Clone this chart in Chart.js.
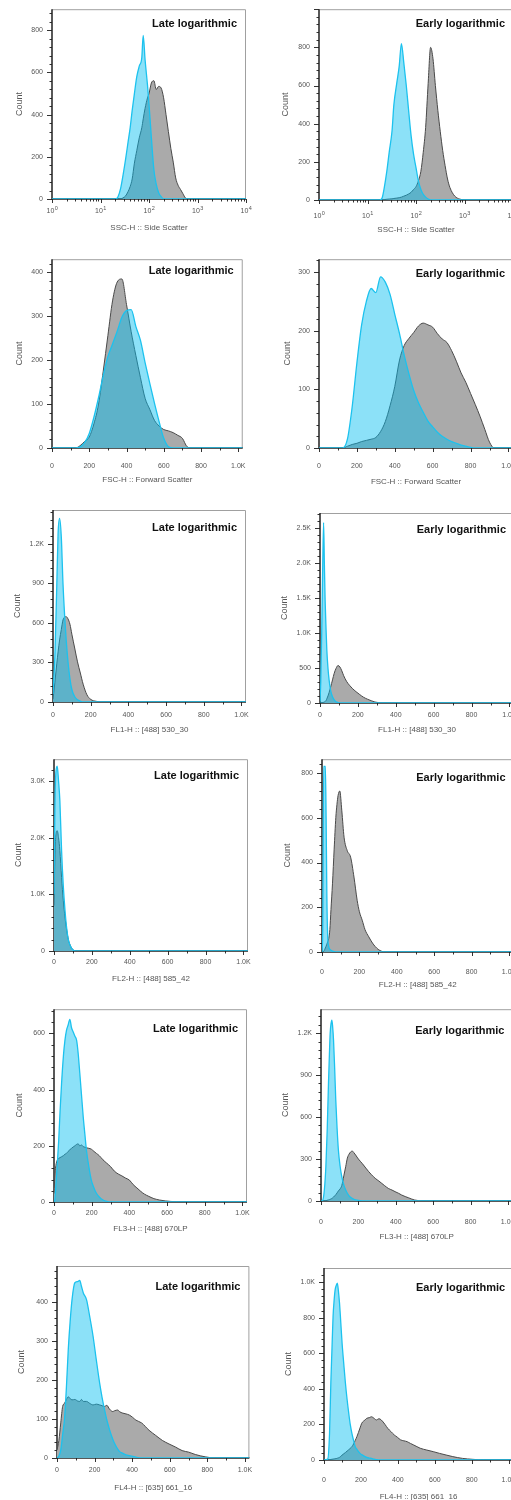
<!DOCTYPE html>
<html><head><meta charset="utf-8">
<script src="https://cdn.jsdelivr.net/npm/chart.js@4.4.1/dist/chart.umd.min.js"></script>
<style>
html,body{margin:0;padding:0;background:#fff;overflow:hidden;width:511px;height:1500px;position:relative}
canvas{position:absolute;display:block}
</style></head><body>
<script>
// ---------- DATA ----------
// Row 1: SSC (log x)
const sscLateX  = [1, 20, 23, 26, 29, 33, 37, 41, 45, 50, 56, 63, 71, 76, 83, 93, 100, 112, 126, 141, 158, 178, 200, 224, 251, 282, 316, 355, 398, 447, 501, 562, 631, 10000];
const sscLateBlue = [0, 0, 11, 50, 110, 190, 270, 340, 420, 500, 580, 630, 670, 776, 660, 541, 450, 290, 140, 70, 30, 11, 0, 0, 0, 0, 0, 0, 0, 0, 0, 0, 0, 0];
const sscLateGray = [0, 0, 0, 0, 5, 15, 35, 60, 95, 170, 230, 290, 338, 380, 430, 479, 500, 550, 561, 519, 534, 526, 480, 401, 320, 240, 175, 100, 65, 45, 25, 5, 0, 0];

const sscEarlyX = [1, 18, 20, 22, 25, 28, 32, 35, 40, 45, 50, 56, 63, 71, 79, 89, 100, 112, 126, 141, 158, 178, 200, 224, 251, 282, 316, 355, 398, 447, 501, 631, 794, 1000, 10000];
const sscEarlyBlue = [0, 0, 10, 60, 150, 250, 360, 500, 610, 700, 820, 720, 600, 460, 340, 240, 170, 100, 55, 30, 15, 5, 0, 0, 0, 0, 0, 0, 0, 0, 0, 0, 0, 0, 0];
const sscEarlyGray = [0, 0, 0, 2, 4, 5, 6, 8, 10, 12, 15, 20, 25, 32, 40, 55, 70, 100, 150, 250, 380, 610, 800, 740, 600, 470, 360, 260, 180, 110, 65, 20, 5, 0, 0];

// Row 2: FSC
const fscLateX = [0, 125, 150, 175, 200, 225, 250, 275, 300, 325, 350, 375, 400, 425, 450, 475, 500, 525, 550, 575, 600, 625, 650, 675, 700, 725, 750, 1024];
const fscLateBlue = [0, 0, 2, 12, 33, 70, 115, 165, 208, 237, 266, 298, 313, 315, 277, 245, 194, 147, 102, 60, 22, 3, 0, 0, 0, 0, 0, 0];
const fscLateGray = [0, 0, 5, 15, 25, 55, 100, 175, 256, 335, 378, 385, 327, 265, 211, 160, 113, 88, 63, 50, 42, 39, 35, 29, 22, 3, 0, 0];

const fscEarlyX = [0, 125, 150, 175, 200, 225, 250, 275, 300, 325, 350, 375, 400, 425, 450, 475, 500, 525, 550, 575, 600, 625, 650, 675, 700, 725, 750, 775, 800, 825, 850, 875, 900, 925, 1024];
const fscEarlyBlue = [0, 0, 15, 70, 145, 210, 250, 272, 265, 292, 283, 262, 228, 195, 158, 126, 98, 77, 61, 46, 36, 27, 20, 15, 11, 8, 5, 3, 1, 0, 0, 0, 0, 0, 0];
const fscEarlyGray = [0, 0, 3, 6, 8, 11, 13, 15, 18, 28, 45, 72, 105, 150, 175, 187, 197, 208, 213, 210, 206, 195, 186, 180, 166, 148, 128, 112, 93, 74, 54, 32, 10, 0, 0];

// Row 3: FL1
const fl1LateX = [0, 10, 20, 27, 35, 44, 53, 62, 70, 80, 90, 100, 115, 130, 145, 160, 180, 200, 230, 260, 1024];
const fl1LateBlue = [60, 350, 880, 1280, 1395, 1255, 900, 650, 470, 300, 175, 95, 40, 17, 6, 0, 0, 0, 0, 0, 0];
const fl1LateGray = [20, 150, 290, 380, 471, 550, 623, 645, 648, 630, 590, 515, 410, 305, 220, 135, 55, 20, 5, 0, 0];

const fl1EarlyX = [0, 4, 9, 14, 19, 23, 27, 32, 36, 42, 48, 56, 66, 75, 84, 95, 105, 115, 125, 140, 155, 170, 190, 210, 230, 250, 270, 290, 310, 330, 350, 370, 1024];
const fl1EarlyBlue = [30, 300, 1000, 1900, 2576, 2000, 1470, 1050, 757, 500, 330, 180, 90, 45, 19, 6, 0, 0, 0, 0, 0, 0, 0, 0, 0, 0, 0, 0, 0, 0, 0, 0, 0];
const fl1EarlyGray = [0, 0, 2, 5, 10, 15, 22, 35, 60, 100, 150, 225, 330, 424, 490, 535, 515, 460, 390, 310, 255, 210, 162, 120, 82, 55, 33, 14, 5, 1, 0, 0, 0];

// Row 4: FL2
const fl2LateX = [0, 5, 10, 17, 24, 31, 40, 49, 58, 67, 76, 85, 93, 102, 111, 120, 1024];
const fl2LateBlue = [1000, 2600, 3150, 3263, 3000, 2650, 1772, 1150, 720, 400, 193, 100, 47, 15, 0, 0, 0];
const fl2LateGray = [800, 1700, 2050, 2123, 2000, 1772, 1300, 895, 600, 368, 200, 105, 50, 18, 5, 0, 0];

const fl2EarlyX = [0, 4, 9, 14, 18, 22, 26, 30, 36, 42, 48, 56, 65, 74, 80, 86, 95, 106, 118, 135, 153, 171, 188, 200, 215, 230, 250, 270, 285, 300, 320, 340, 1024];
const fl2EarlyBlue = [0, 100, 830, 830, 830, 600, 250, 80, 24, 12, 8, 4, 2, 0, 0, 0, 0, 0, 0, 0, 0, 0, 0, 0, 0, 0, 0, 0, 0, 0, 0, 0, 0];
const fl2EarlyGray = [0, 0, 3, 10, 18, 26, 35, 45, 60, 100, 190, 305, 460, 602, 660, 700, 720, 631, 513, 453, 424, 335, 231, 180, 142, 100, 68, 40, 24, 12, 3, 0, 0];

// Row 5: FL3
const fl3LateX = [0, 5, 10, 18, 25, 32, 40, 50, 58, 66, 75, 84, 93, 102, 111, 120, 128, 137, 146, 155, 164, 172, 185, 198, 212, 225, 240, 260, 280, 300, 320, 340, 360, 380, 400, 420, 440, 460, 480, 500, 530, 560, 590, 620, 650, 680, 1024];
const fl3LateBlue = [0, 10, 60, 140, 220, 320, 420, 520, 575, 610, 630, 650, 620, 605, 590, 575, 530, 457, 380, 303, 240, 185, 125, 78, 50, 31, 18, 7, 2, 0, 0, 0, 0, 0, 0, 0, 0, 0, 0, 0, 0, 0, 0, 0, 0, 0, 0];
const fl3LateGray = [30, 100, 130, 150, 155, 158, 161, 165, 170, 173, 180, 186, 191, 196, 200, 205, 207, 200, 203, 197, 195, 193, 191, 188, 180, 173, 165, 150, 138, 126, 110, 100, 93, 85, 78, 62, 50, 38, 28, 21, 12, 7, 4, 2, 1, 0, 0];

const fl3EarlyX = [0, 9, 18, 26, 33, 40, 45, 49, 54, 58, 62, 67, 73, 79, 86, 93, 102, 111, 122, 132, 141, 150, 158, 167, 176, 185, 200, 220, 240, 255, 270, 290, 310, 325, 340, 360, 380, 396, 415, 431, 450, 466, 485, 501, 520, 540, 1024];
const fl3EarlyBlue = [0, 5, 80, 245, 500, 841, 1050, 1198, 1270, 1293, 1250, 1150, 950, 721, 520, 364, 250, 174, 115, 79, 55, 36, 26, 19, 12, 8, 4, 1, 0, 0, 0, 0, 0, 0, 0, 0, 0, 0, 0, 0, 0, 0, 0, 0, 0, 0, 0];
const fl3EarlyGray = [0, 0, 0, 2, 5, 8, 10, 12, 15, 18, 22, 28, 36, 45, 58, 72, 86, 110, 180, 245, 307, 335, 350, 357, 345, 329, 300, 269, 235, 210, 188, 162, 142, 126, 110, 90, 78, 67, 55, 43, 32, 24, 14, 7, 3, 0, 0];

// Row 6: FL4
const fl4LateX = [0, 10, 20, 30, 40, 50, 60, 70, 80, 95, 110, 121, 130, 140, 157, 174, 192, 209, 227, 240, 253, 265, 280, 297, 306, 324, 332, 350, 367, 385, 403, 420, 450, 490, 525, 561, 596, 631, 666, 701, 736, 789, 842, 1024];
const fl4LateBlue = [0, 5, 20, 60, 100, 180, 278, 350, 406, 449, 452, 455, 440, 423, 406, 363, 312, 252, 192, 155, 124, 98, 72, 48, 38, 22, 17, 12, 8, 6, 4, 2, 0, 0, 0, 0, 0, 0, 0, 0, 0, 0, 0, 0];
const fl4LateGray = [20, 45, 90, 132, 140, 150, 157, 152, 149, 150, 146, 145, 150, 145, 145, 140, 136, 138, 136, 134, 132, 135, 125, 119, 121, 123, 119, 115, 113, 110, 104, 97, 90, 71, 58, 45, 36, 28, 19, 15, 9, 3, 0, 0];

const fl4EarlyX = [0, 20, 30, 37, 43, 49, 55, 60, 66, 72, 78, 84, 91, 98, 107, 116, 125, 134, 142, 151, 160, 169, 178, 195, 204, 222, 231, 245, 257, 270, 284, 297, 310, 330, 345, 362, 380, 397, 415, 432, 450, 468, 486, 503, 521, 556, 591, 626, 661, 697, 750, 802, 872, 1024];
const fl4EarlyBlue = [0, 5, 150, 431, 620, 805, 900, 955, 980, 994, 950, 882, 770, 655, 540, 431, 340, 262, 200, 150, 110, 75, 60, 37, 30, 19, 15, 11, 9, 5, 2, 0, 0, 0, 0, 0, 0, 0, 0, 0, 0, 0, 0, 0, 0, 0, 0, 0, 0, 0, 0, 0, 0, 0];
const fl4EarlyGray = [0, 0, 2, 3, 4, 5, 6, 7, 8, 10, 12, 15, 20, 28, 35, 42, 50, 58, 65, 75, 90, 110, 131, 180, 206, 225, 234, 238, 243, 235, 225, 232, 225, 200, 178, 160, 141, 128, 113, 108, 103, 93, 84, 75, 66, 56, 47, 37, 28, 19, 9, 4, 0, 0];

// Tick values / labels
const logTicks = [1, 10, 100, 1000, 10000];
const logTickBase = '10';
const logTickExps = ['0', '1', '2', '3', '4'];
const linTicks = [0, 200, 400, 600, 800, 1000];
const linTickLabels = ['0', '200', '400', '600', '800', '1.0K'];
const yTicksSscLate = [0, 200, 400, 600, 800];
const yTicksSscEarly = [0, 200, 400, 600, 800];
const yTicksFscLate = [0, 100, 200, 300, 400];
const yTicksFscEarly = [0, 100, 200, 300];
const yTicksFl1Late = [0, 300, 600, 900, 1200];
const yTicksFl1Early = [0, 500, 1000, 1500, 2000, 2500];
const yTicksFl2Late = [0, 1000, 2000, 3000];
const yTicksFl2Early = [0, 200, 400, 600, 800];
const yTicksFl3Late = [0, 200, 400, 600];
const yTicksFl3Early = [0, 300, 600, 900, 1200];
const yTicksFl4Late = [0, 100, 200, 300, 400];
const yTicksFl4Early = [0, 200, 400, 600, 800, 1000];
const yMaxes = [900, 1000, 430, 322, 1458, 2714, 3386, 862, 686, 1371, 492, 1079];

const LATE = 'Late logarithmic', EARLY = 'Early logarithmic';
const xTitles = ['SSC-H :: Side Scatter', 'FSC-H :: Forward Scatter', 'FL1-H :: [488] 530_30', 'FL2-H :: [488] 585_42', 'FL3-H :: [488] 670LP', 'FL4-H :: [635] 661_16'];

// ---------- LAYOUT (canvas-relative pixels) ----------
const layouts = [
  {boxL:52, boxT:6,  boxR:246, zeroY:199, xTitleY:228,   countX:20, xLabOff:12.5, titleY:24},
  {boxL:63, boxT:8,  boxR:257, zeroY:200, xTitleY:230,   countX:30, xLabOff:16.5, titleY:24},
  {boxL:52, boxT:5,  boxR:246, zeroY:198, xTitleY:230,   countX:20, xLabOff:18.5, titleY:21},
  {boxL:63, boxT:5,  boxR:257, zeroY:198, xTitleY:231.5, countX:32, xLabOff:18.5, titleY:24},
  {boxL:53, boxT:10, boxR:246, zeroY:202, xTitleY:230,   countX:18, xLabOff:13,   titleY:28},
  {boxL:64, boxT:13, boxR:258, zeroY:203, xTitleY:230,   countX:29, xLabOff:12,   titleY:30},
  {boxL:54, boxT:8,  boxR:248, zeroY:201, xTitleY:229,   countX:19, xLabOff:10.7, titleY:26},
  {boxL:66, boxT:8,  boxR:260, zeroY:202, xTitleY:235,   countX:32, xLabOff:19.7, titleY:28},
  {boxL:54, boxT:9,  boxR:247, zeroY:202, xTitleY:229,   countX:20, xLabOff:11,   titleY:29},
  {boxL:65, boxT:9,  boxR:259, zeroY:201, xTitleY:236.5, countX:30, xLabOff:20.7, titleY:31},
  {boxL:57, boxT:16, boxR:251, zeroY:208, xTitleY:238,   countX:22, xLabOff:12,   titleY:37},
  {boxL:68, boxT:18, boxR:262, zeroY:210, xTitleY:246.5, countX:33, xLabOff:20,   titleY:38}
];

const panels = [
  {title: LATE,  xs: sscLateX,  gray: sscLateGray,  blue: sscLateBlue,  yTicks: yTicksSscLate,  log: true},
  {title: EARLY, xs: sscEarlyX, gray: sscEarlyGray, blue: sscEarlyBlue, yTicks: yTicksSscEarly, log: true},
  {title: LATE,  xs: fscLateX,  gray: fscLateGray,  blue: fscLateBlue,  yTicks: yTicksFscLate,  log: false},
  {title: EARLY, xs: fscEarlyX, gray: fscEarlyGray, blue: fscEarlyBlue, yTicks: yTicksFscEarly, log: false},
  {title: LATE,  xs: fl1LateX,  gray: fl1LateGray,  blue: fl1LateBlue,  yTicks: yTicksFl1Late,  log: false},
  {title: EARLY, xs: fl1EarlyX, gray: fl1EarlyGray, blue: fl1EarlyBlue, yTicks: yTicksFl1Early, log: false},
  {title: LATE,  xs: fl2LateX,  gray: fl2LateGray,  blue: fl2LateBlue,  yTicks: yTicksFl2Late,  log: false},
  {title: EARLY, xs: fl2EarlyX, gray: fl2EarlyGray, blue: fl2EarlyBlue, yTicks: yTicksFl2Early, log: false},
  {title: LATE,  xs: fl3LateX,  gray: fl3LateGray,  blue: fl3LateBlue,  yTicks: yTicksFl3Late,  log: false},
  {title: EARLY, xs: fl3EarlyX, gray: fl3EarlyGray, blue: fl3EarlyBlue, yTicks: yTicksFl3Early, log: false},
  {title: LATE,  xs: fl4LateX,  gray: fl4LateGray,  blue: fl4LateBlue,  yTicks: yTicksFl4Late,  log: false},
  {title: EARLY, xs: fl4EarlyX, gray: fl4EarlyGray, blue: fl4EarlyBlue, yTicks: yTicksFl4Early, log: false}
];

// ---------- STYLE ----------
const FONT = "Arial, 'Liberation Sans', sans-serif";
const BLUE_LINE = '#1cc2ee';
const BLUE_FILL = 'rgba(0,188,240,0.45)';
const GRAY_LINE = '#4a4a4a';
const GRAY_FILL = '#aaaaaa';
const LABEL_COLOR = '#555';

const fmtK = v => v >= 1000 ? (v / 1000).toFixed(1) + 'K' : String(v);

const framePlugin = {
  id: 'frame',
  beforeDatasetsDraw(chart, args, o) {
    const {ctx, chartArea: a, scales} = chart;
    const x = scales.x, y = scales.y;
    ctx.save();
    ctx.strokeStyle = '#a0a0a0'; ctx.lineWidth = 1;
    ctx.beginPath();
    ctx.moveTo(a.left, a.top + 0.5); ctx.lineTo(a.right - 0.5, a.top + 0.5); ctx.lineTo(a.right - 0.5, a.bottom);
    ctx.stroke();
    ctx.strokeStyle = '#333'; ctx.lineWidth = 1;
    ctx.beginPath();
    const ys = o.yTicks[1] - o.yTicks[0], ym = ys / 5;
    for (let i = 0; i * ym <= y.max; i++) {
      const py = Math.round(y.getPixelForValue(i * ym)) + 0.5;
      const len = (i % 5 === 0) ? 5 : 2.5;
      ctx.moveTo(a.left - len, py); ctx.lineTo(a.left, py);
    }
    const xt = (v, major) => {
      const px = Math.round(x.getPixelForValue(v)) + 0.5;
      ctx.moveTo(px, a.bottom); ctx.lineTo(px, a.bottom + (major ? 4 : 2.5));
    };
    if (o.log) {
      for (let d = 1; d <= 1000; d *= 10) for (let m = 1; m < 10; m++) xt(m * d, m === 1);
      xt(10000, true);
    } else {
      for (let i = 0; i * 100 <= x.max; i++) xt(i * 100, i % 2 === 0);
    }
    ctx.stroke();
    ctx.strokeStyle = '#222'; ctx.lineWidth = 1.5;
    ctx.beginPath();
    ctx.moveTo(a.left, a.top); ctx.lineTo(a.left, a.bottom); ctx.lineTo(a.right, a.bottom);
    ctx.stroke();
    ctx.restore();
  },
  afterDatasetsDraw(chart, args, o) {
    const {ctx, chartArea: a, scales} = chart;
    ctx.save();
    ctx.font = 'bold 11px ' + FONT;
    ctx.fillStyle = '#111';
    ctx.textAlign = 'right';
    ctx.textBaseline = 'middle';
    ctx.fillText(o.title, a.right - o.inset, o.titleY);
    // log-axis labels: "10" with raised exponent
    if (o.log) {
      ctx.fillStyle = LABEL_COLOR;
      ctx.textBaseline = 'middle';
      logTicks.forEach((v, i) => {
        const px = scales.x.getPixelForValue(v);
        ctx.font = '7px ' + FONT;
        const wb = ctx.measureText(logTickBase).width;
        ctx.font = '5.5px ' + FONT;
        const we = ctx.measureText(logTickExps[i]).width;
        const x0 = px - (wb + we) / 2;
        const yc = a.bottom + o.labOff;
        ctx.textAlign = 'left';
        ctx.font = '7px ' + FONT;
        ctx.fillText(logTickBase, x0, yc);
        ctx.font = '5.5px ' + FONT;
        ctx.fillText(logTickExps[i], x0 + wb + 0.3, yc - 3.2);
      });
    }
    ctx.restore();
  }
};

panels.forEach((p, idx) => {
  const L = layouts[idx];
  const col = idx % 2, row = Math.floor(idx / 2);
  const cx = col ? 256 : 0, cy = row * 250;
  const cw = col ? 272 : 256, ch = 262;
  const cv = document.createElement('canvas');
  cv.width = cw; cv.height = ch;
  cv.style.left = cx + 'px'; cv.style.top = cy + 'px';
  cv.style.width = cw + 'px'; cv.style.height = ch + 'px';
  document.body.appendChild(cv);

  const padB = ch - L.xTitleY - 4.8;
  const xH = ch - padB - L.zeroY;
  const padL = L.countX - 5.4;
  const yW = L.boxL - padL;
  const xTickVals = p.log ? logTicks : linTicks;

  new Chart(cv, {
    type: 'line',
    data: {
      datasets: [
        {data: p.xs.map((v, i) => ({x: v, y: p.blue[i]})), borderColor: BLUE_LINE, backgroundColor: BLUE_FILL,
         fill: 'origin', borderWidth: 1.3, pointRadius: 0, cubicInterpolationMode: 'monotone'},
        {data: p.xs.map((v, i) => ({x: v, y: p.gray[i]})), borderColor: GRAY_LINE, backgroundColor: GRAY_FILL,
         fill: 'origin', borderWidth: 1, pointRadius: 0, cubicInterpolationMode: 'monotone'}
      ]
    },
    options: {
      responsive: false, animation: false, devicePixelRatio: 1,
      events: [],
      layout: {padding: {left: padL, top: L.boxT, right: cw - L.boxR, bottom: padB}},
      plugins: {
        legend: {display: false}, tooltip: {enabled: false},
        frame: {yTicks: p.yTicks, log: p.log, title: p.title, titleY: L.titleY, inset: col ? 8 : 9, labOff: L.xLabOff}
      },
      scales: {
        x: {
          type: p.log ? 'logarithmic' : 'linear',
          min: p.log ? 1 : 0, max: p.log ? 10000 : 1024,
          afterBuildTicks: s => { s.ticks = xTickVals.map(v => ({value: v})); },
          afterFit: s => { s.height = xH; },
          ticks: {autoSkip: false, maxRotation: 0, minRotation: 0, padding: Math.max(0, L.xLabOff - 8.2),
                  font: {size: 7, family: FONT}, color: LABEL_COLOR,
                  callback: (v, i) => p.log ? '' : linTickLabels[i]},
          grid: {drawOnChartArea: false, drawTicks: true, tickLength: 4, color: 'rgba(0,0,0,0)', tickColor: 'rgba(0,0,0,0)'},
          border: {display: false},
          title: {display: true, text: xTitles[row], font: {size: 8, family: FONT}, color: LABEL_COLOR, padding: 0}
        },
        y: {
          type: 'linear', min: 0, max: yMaxes[idx],
          afterBuildTicks: s => { s.ticks = p.yTicks.map(v => ({value: v})); },
          afterFit: s => { s.width = yW; },
          ticks: {autoSkip: false, padding: 5, font: {size: 7, family: FONT}, color: LABEL_COLOR,
                  callback: v => fmtK(v)},
          grid: {drawOnChartArea: false, drawTicks: true, tickLength: 4, color: 'rgba(0,0,0,0)', tickColor: 'rgba(0,0,0,0)'},
          border: {display: false},
          title: {display: true, text: 'Count', font: {size: 9, family: FONT}, color: LABEL_COLOR, padding: 0}
        }
      }
    },
    plugins: [framePlugin]
  });
});
</script>
</body></html>
